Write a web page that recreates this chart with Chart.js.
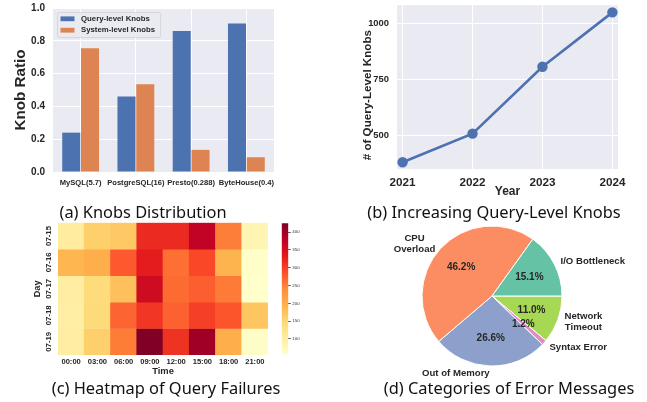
<!DOCTYPE html>
<html>
<head>
<meta charset="utf-8">
<script src="https://cdn.jsdelivr.net/npm/chart.js@4.4.1/dist/chart.umd.min.js"></script>
<style>
  html, body { margin: 0; padding: 0; background: #fff; }
  #page { position: relative; width: 647px; height: 402px; overflow: hidden; }
  .box { position: absolute; }
  .cap {
    position: absolute; transform: translateX(-50%); white-space: nowrap;
    font-family: "Noto Sans", "Lato", sans-serif; font-size: 16.4px; line-height: 16px; color: #111;
  }
</style>
</head>
<body>
<div id="page">
  <div class="box" style="left:0;top:0;width:290px;height:200px"><canvas id="chartKnobs"></canvas></div>
  <div class="box" style="left:330px;top:0;width:317px;height:200px"><canvas id="chartTrend"></canvas></div>
  <div class="box" style="left:0;top:215px;width:275px;height:170px"><canvas id="chartHeat"></canvas></div>
  <div class="box" style="left:270px;top:215px;width:40px;height:145px"><canvas id="chartScale"></canvas></div>
  <div class="box" style="left:380px;top:215px;width:267px;height:170px"><canvas id="chartErrors"></canvas></div>

  <div class="cap" style="left:143px;top:204px">(a) Knobs Distribution</div>
  <div class="cap" style="left:494px;top:204px">(b) Increasing Query-Level Knobs</div>
  <div class="cap" style="left:166px;top:380px">(c) Heatmap of Query Failures</div>
  <div class="cap" style="left:509px;top:380px">(d) Categories of Error Messages</div>
</div>

<script>
// --- datos ---
const engines = ["MySQL(5.7)", "PostgreSQL(16)", "Presto(0.288)", "ByteHouse(0.4)"];
const queryLevel = [0.24, 0.46, 0.86, 0.905];
const systemLevel = [0.755, 0.535, 0.135, 0.09];
const ratioTicks = [0, 0.2, 0.4, 0.6, 0.8, 1.0];

const years = [2021, 2022, 2023, 2024];
const knobCounts = [381, 509, 808, 1051];
const countTicks = [500, 750, 1000];

const days = ["07-15", "07-16", "07-17", "07-18", "07-19"];
const hours = ["00:00", "03:00", "06:00", "09:00", "12:00", "15:00", "18:00", "21:00"];
const failures0715 = [105, 160, 168, 318, 318, 373, 252, 83];
const failures0716 = [190, 200, 278, 331, 263, 293, 193, 60];
const failures0717 = [101, 142, 178, 358, 266, 275, 255, 57];
const failures0718 = [100, 145, 270, 307, 273, 300, 282, 172];
const failures0719 = [102, 160, 253, 425, 311, 400, 200, 62];
const failures = [failures0715, failures0716, failures0717, failures0718, failures0719];
const scaleTicks = [100, 150, 200, 250, 300, 350, 400];

const errorLabels = ["I/O Bottleneck", "CPU\nOverload", "Out of Memory", "Syntax Error", "Network\nTimeout"];
const errorShares = [15.1, 46.2, 26.6, 1.2, 11.0];

// --- estilos ---
const BLUE = "#4c72b0";
const ORANGE = "#dd8452";
const SB_BG = "#eaeaf2";
const TEXT = "#262626";
const SET2 = ["#66c2a5", "#fc8d62", "#8da0cb", "#e78ac3", "#a6d854"];
const YLORRD = ["#ffffcc", "#ffeda0", "#fed976", "#feb24c", "#fd8d3c", "#fc4e2a", "#e31a1c", "#bd0026", "#800026"];
const FONT = "'Liberation Sans', Arial, sans-serif";

Chart.defaults.font.family = FONT;
Chart.defaults.color = TEXT;
Chart.defaults.animation = false;
Chart.defaults.events = [];
Chart.defaults.plugins.legend.display = false;
Chart.defaults.plugins.tooltip.enabled = false;

// --- helpers ---
function hexRgb(h) {
  const n = parseInt(h.slice(1), 16);
  return [(n >> 16) & 255, (n >> 8) & 255, n & 255];
}
function heatColor(v, vmin, vmax) {
  let t = (v - vmin) / (vmax - vmin);
  t = Math.min(1, Math.max(0, t)) * (YLORRD.length - 1);
  const i = Math.min(YLORRD.length - 2, Math.floor(t));
  const f = t - i;
  const a = hexRgb(YLORRD[i]), b = hexRgb(YLORRD[i + 1]);
  const c = a.map((x, k) => Math.round(x + (b[k] - x) * f));
  return `rgb(${c[0]},${c[1]},${c[2]})`;
}
// tamaño fijo de eje, sin el margen extra que Chart.js reserva para las etiquetas
const fixY = (w) => (s) => { s.width = w; s.paddingTop = 0; s.paddingBottom = 0; };
const fixX = (h) => (s) => { s.height = h; s.paddingLeft = 0; s.paddingRight = 0; };

// fondo gris estilo seaborn
const seabornBg = {
  id: "seabornBg",
  beforeDraw(chart, args, opts) {
    const { ctx, chartArea: a } = chart;
    ctx.save();
    ctx.fillStyle = opts.color || SB_BG;
    ctx.fillRect(a.left, a.top, a.right - a.left, a.bottom - a.top);
    ctx.restore();
  },
};

// leyenda dentro del área (como matplotlib)
const insideLegend = {
  id: "insideLegend",
  afterDraw(chart, args, opts) {
    const { ctx, chartArea: a } = chart;
    const x = a.left + opts.x, y = a.top + opts.y;
    const items = chart.data.datasets;
    ctx.save();
    ctx.font = opts.font;
    const textW = Math.max(...items.map((d) => ctx.measureText(d.label).width));
    const w = 24 + textW + 5, h = 25;
    ctx.fillStyle = "rgba(234,234,242,0.85)";
    ctx.strokeStyle = "#cfcfd6";
    ctx.lineWidth = 0.8;
    ctx.beginPath();
    ctx.roundRect(x + 0.5, y + 0.5, w, h, 2);
    ctx.fill();
    ctx.stroke();
    items.forEach((d, i) => {
      const cy = y + 6.8 + i * 11.4;
      ctx.fillStyle = d.backgroundColor;
      ctx.fillRect(x + 3.5, cy - 2.4, 14, 4.8);
      ctx.fillStyle = TEXT;
      ctx.textBaseline = "middle";
      ctx.fillText(d.label, x + 24, cy);
    });
    ctx.restore();
  },
};

// etiquetas de días giradas en el heatmap
const rotatedDayTicks = {
  id: "rotatedDayTicks",
  afterDraw(chart, args, opts) {
    const s = chart.scales.y;
    const { ctx } = chart;
    ctx.save();
    ctx.font = opts.font;
    ctx.fillStyle = TEXT;
    ctx.textAlign = "center";
    ctx.textBaseline = "middle";
    s.ticks.forEach((t) => {
      ctx.save();
      ctx.translate(s.right - opts.offset, s.getPixelForValue(t.value));
      ctx.rotate(-Math.PI / 2);
      ctx.fillText(days[Math.floor(t.value)], 0, 0);
      ctx.restore();
    });
    ctx.restore();
  },
};

// etiquetas y porcentajes de la tarta
const pieLabels = {
  id: "pieLabels",
  afterDatasetsDraw(chart) {
    const { ctx } = chart;
    const ds = chart.data.datasets[0];
    const total = ds.data.reduce((a, b) => a + b, 0);
    const meta = chart.getDatasetMeta(0);
    ctx.save();
    ctx.fillStyle = TEXT;
    ctx.textBaseline = "middle";
    meta.data.forEach((arc, i) => {
      const { x, y, startAngle, endAngle, outerRadius: r } = arc.getProps(
        ["x", "y", "startAngle", "endAngle", "outerRadius"], true);
      const mid = (startAngle + endAngle) / 2;
      const cos = Math.cos(mid), sin = Math.sin(mid);

      ctx.font = `bold 10px ${FONT}`;
      ctx.textAlign = "center";
      ctx.fillText(((ds.data[i] / total) * 100).toFixed(1) + "%", x + cos * r * 0.6, y + sin * r * 0.6);

      ctx.font = `bold 9.6px ${FONT}`;
      const lines = chart.data.labels[i].split("\n");
      const lh = 11.5;
      const blockW = Math.max(...lines.map((l) => ctx.measureText(l).width));
      const ax = x + cos * r * 1.1, ay = y + sin * r * 1.1;
      const cx = cos >= 0 ? ax + blockW / 2 : ax - blockW / 2;
      lines.forEach((l, k) => {
        ctx.fillText(l, cx, ay - ((lines.length - 1) * lh) / 2 + k * lh);
      });
    });
    ctx.restore();
  },
};

// --- (a) Distribución de knobs ---
new Chart(document.getElementById("chartKnobs"), {
  type: "bar",
  data: {
    labels: engines,
    datasets: [
      { label: "Query-level Knobs", data: queryLevel, backgroundColor: BLUE, barPercentage: 0.96, categoryPercentage: 0.68 },
      { label: "System-level Knobs", data: systemLevel, backgroundColor: ORANGE, barPercentage: 0.96, categoryPercentage: 0.68 },
    ],
  },
  options: {
    responsive: true,
    maintainAspectRatio: false,
    layout: { padding: { top: 8, right: 16, left: 0, bottom: 0 } },
    plugins: {
      seabornBg: { color: SB_BG },
      insideLegend: { x: 4, y: 4, font: `bold 7.8px ${FONT}` },
    },
    scales: {
      x: {
        grid: { color: "#ffffff", offset: false, drawTicks: false, lineWidth: 1 },
        border: { display: false },
        ticks: { font: { size: 7.6, weight: "bold" }, padding: 6, maxRotation: 0, autoSkip: false },
        afterFit: fixX(28),
      },
      y: {
        min: 0,
        max: 1,
        afterBuildTicks: (s) => { s.ticks = ratioTicks.map((v) => ({ value: v })); },
        ticks: { callback: (v) => Number(v).toFixed(1), font: { size: 10, weight: "bold" }, padding: 8 },
        grid: { color: "#ffffff", drawTicks: false, lineWidth: 1 },
        border: { display: false },
        title: { display: true, text: "Knob Ratio", font: { size: 15.2, weight: "bold" }, padding: { top: 12, bottom: 0 } },
        afterFit: fixY(53),
      },
    },
  },
  plugins: [seabornBg, insideLegend],
});

// --- (b) Knobs a nivel de consulta por año ---
new Chart(document.getElementById("chartTrend"), {
  type: "line",
  data: {
    datasets: [
      {
        label: "Query-Level Knobs",
        data: years.map((yr, i) => ({ x: yr, y: knobCounts[i] })),
        borderColor: BLUE,
        backgroundColor: BLUE,
        borderWidth: 2.6,
        pointRadius: 5.2,
        pointBorderWidth: 0,
        tension: 0,
      },
    ],
  },
  options: {
    responsive: true,
    maintainAspectRatio: false,
    layout: { padding: { top: 5, right: 29, left: 0, bottom: 0 } },
    plugins: { seabornBg: { color: SB_BG } },
    scales: {
      x: {
        type: "linear",
        min: 2020.92,
        max: 2024.08,
        afterBuildTicks: (s) => { s.ticks = years.map((v) => ({ value: v })); },
        ticks: { callback: (v) => String(v), font: { size: 11.7, weight: "bold" }, padding: 7 },
        grid: { color: "#ffffff", drawTicks: false, lineWidth: 1 },
        border: { display: false },
        title: { display: true, text: "Year", font: { size: 12, weight: "bold" }, padding: { top: 0, bottom: 1.5 } },
        afterFit: fixX(31),
      },
      y: {
        min: 351,
        max: 1083,
        afterBuildTicks: (s) => { s.ticks = countTicks.map((v) => ({ value: v })); },
        ticks: { callback: (v) => String(v), font: { size: 9.4, weight: "bold" }, padding: 8 },
        grid: { color: "#ffffff", drawTicks: false, lineWidth: 1 },
        border: { display: false },
        title: {
          display: true,
          text: "# of Query-Level Knobs     ",
          font: { size: 11.6, weight: "bold" },
          padding: { top: 31, bottom: 0 },
        },
        afterFit: fixY(67),
      },
    },
  },
  plugins: [seabornBg],
});

// --- (c) Heatmap de fallos ---
const flat = failures.flat();
const vmin = Math.min(...flat);
const vmax = Math.max(...flat);

new Chart(document.getElementById("chartHeat"), {
  type: "bar",
  data: {
    labels: hours,
    datasets: days.map((d, r) => ({
      label: d,
      data: hours.map(() => [r, r + 1]),
      backgroundColor: failures[r].map((v) => heatColor(v, vmin, vmax)),
      borderWidth: 0,
      barPercentage: 1,
      categoryPercentage: 1,
      grouped: false,
    })),
  },
  options: {
    responsive: true,
    maintainAspectRatio: false,
    layout: { padding: { top: 7.7, right: 7, left: 0, bottom: 0 } },
    plugins: { rotatedDayTicks: { font: `bold 7.8px ${FONT}`, offset: 9 } },
    scales: {
      x: {
        grid: { display: false, drawTicks: false },
        border: { display: false },
        ticks: { font: { size: 7.6, weight: "bold" }, padding: 2, maxRotation: 0, autoSkip: false },
        title: { display: true, text: "Time", font: { size: 9.4, weight: "bold" }, padding: { top: 0, bottom: 8 } },
        afterFit: fixX(30),
      },
      y: {
        min: 0,
        max: days.length,
        reverse: true,
        afterBuildTicks: (s) => { s.ticks = days.map((d, i) => ({ value: i + 0.5 })); },
        ticks: { display: false },
        grid: { display: false, drawTicks: false },
        border: { display: false },
        title: { display: true, text: "Day", font: { size: 9.2, weight: "bold" }, padding: { top: 31.5, bottom: 0 } },
        afterFit: fixY(58),
      },
    },
  },
  plugins: [rotatedDayTicks],
});

// barra de color
new Chart(document.getElementById("chartScale"), {
  type: "bar",
  data: {
    labels: [""],
    datasets: [
      {
        data: [[vmin, vmax]],
        barPercentage: 1,
        categoryPercentage: 1,
        borderWidth: 0,
        backgroundColor: (c) => {
          const a = c.chart.chartArea;
          if (!a) return YLORRD[4];
          const g = c.chart.ctx.createLinearGradient(0, a.bottom, 0, a.top);
          YLORRD.forEach((col, i) => g.addColorStop(i / (YLORRD.length - 1), col));
          return g;
        },
      },
    ],
  },
  options: {
    responsive: true,
    maintainAspectRatio: false,
    layout: { padding: { top: 8.3, right: 0, left: 11.7, bottom: 5.7 } },
    scales: {
      x: { display: false },
      y: {
        position: "right",
        min: vmin,
        max: vmax,
        afterBuildTicks: (s) => { s.ticks = scaleTicks.map((v) => ({ value: v })); },
        ticks: { font: { size: 4.4 }, padding: 1.5, color: "#333" },
        grid: { drawOnChartArea: false, drawTicks: true, tickLength: 2.5, color: "#333", lineWidth: 0.8 },
        border: { display: false },
        afterFit: fixY(21.7),
      },
    },
  },
});

// --- (d) Categorías de mensajes de error ---
// Chart.js gira en sentido horario: se invierte el orden para imitar matplotlib
new Chart(document.getElementById("chartErrors"), {
  type: "pie",
  data: {
    labels: errorLabels.slice().reverse(),
    datasets: [
      {
        data: errorShares.slice().reverse(),
        backgroundColor: SET2.slice().reverse(),
        borderColor: "#ffffff",
        borderWidth: 1,
      },
    ],
  },
  options: {
    responsive: true,
    maintainAspectRatio: false,
    rotation: 90,
    radius: 70,
    layout: { padding: { top: 11, right: 85, left: 42, bottom: 19 } },
  },
  plugins: [pieLabels],
});
</script>
</body>
</html>
